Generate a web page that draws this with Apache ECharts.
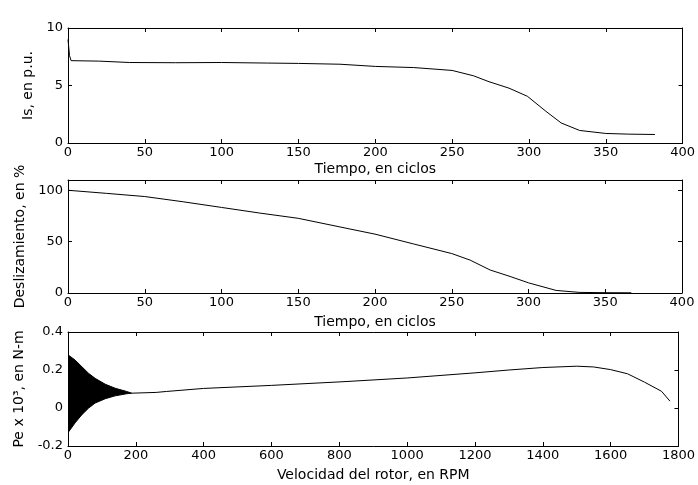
<!DOCTYPE html>
<html>
<head>
<meta charset="utf-8">
<script src="https://cdn.jsdelivr.net/npm/echarts@6/dist/echarts.min.js"></script>
<style>
html,body{margin:0;padding:0;background:#fff;}
#chart{width:698px;height:485px;}
</style>
</head>
<body>
<div id="chart"></div>
<script>
// ---- Data ----
// Top: stator current vs time (cycles)
const isTime  = [0, 0.5, 1, 2, 20, 40, 70, 100, 130, 150, 177, 200, 225, 250, 264, 274, 287, 299, 311, 321, 333, 350, 365, 382];
const isValue = [9.0, 8.3, 7.6, 7.16, 7.12, 7.0, 6.98, 7.0, 6.95, 6.92, 6.85, 6.66, 6.56, 6.31, 5.84, 5.33, 4.77, 4.06, 2.76, 1.74, 1.09, 0.83, 0.77, 0.74];

// Middle: slip (%) vs time (cycles)
const slipTime  = [0, 25, 50, 75, 100, 125, 150, 183, 200, 225, 250, 262, 275, 288, 300, 318, 333, 350, 367];
const slipValue = [100, 97, 93.9, 88.8, 83.3, 77.8, 72.7, 62.5, 57.3, 47.8, 38.4, 32, 22.4, 16.1, 9.9, 2.5, 0.6, 0.3, 0.2];

// Bottom: electric torque envelope of the start-up oscillation (RPM)
const oscSpeed = [0, 21, 41, 61, 80, 110, 139, 173, 188];
const oscUpper = [0.28, 0.252, 0.217, 0.182, 0.156, 0.125, 0.104, 0.087, 0.078];
const oscLower = [-0.13, -0.078, -0.035, 0.0, 0.026, 0.049, 0.064, 0.075, 0.078];

// Bottom: electric torque after the oscillation
const peSpeed = [188, 260, 290, 400, 600, 808, 1000, 1200, 1300, 1400, 1500, 1550, 1600, 1650, 1700, 1750, 1775];
const peValue = [0.078, 0.082, 0.087, 0.103, 0.119, 0.138, 0.158, 0.185, 0.2, 0.213, 0.22, 0.216, 0.202, 0.18, 0.136, 0.088, 0.036];

// Axis ranges / labels
const xTimeRange = {min: 0, max: 400, interval: 50};
const xSpeedRange = {min: 0, max: 1800, interval: 200};
const yIsRange = {min: 0, max: 10, interval: 5};
const ySlipRange = {min: 0, max: 110, interval: 50};
const yPeRange = {min: -0.2, max: 0.4, interval: 0.2};
const xNames = ['Tiempo, en ciclos', 'Tiempo, en ciclos', 'Velocidad del rotor, en RPM'];
const yNames = ['Is, en p.u.', 'Deslizamiento, en %', 'Pe x 10\u00B3, en N-m'];

// ---- Chart ----
const FONT = 'DejaVu Sans';
const zip = (a, b) => a.map((v, i) => [v, b[i]]);
const fmt = v => String(Math.round(v * 1000) / 1000);

const lineCol = '#000';
const axisLine = {show: true, onZero: false, lineStyle: {color: lineCol, width: 1}};
const axisTick = {show: true, inside: true, length: 4, lineStyle: {color: lineCol}};
const labelStyle = {color: '#000', fontFamily: FONT, fontSize: 13, formatter: fmt};
const nameStyle = {color: '#000', fontFamily: FONT, fontSize: 14};

const grids = [
  {left: 68, width: 615, top: 28, height: 115},
  {left: 68, width: 614, top: 180, height: 113},
  {left: 68, width: 612, top: 332, height: 114}
];
const xRanges = [xTimeRange, xTimeRange, xSpeedRange];
const yRanges = [yIsRange, ySlipRange, yPeRange];
const xGaps = [19, 22, 22];
const yGaps = [29, 38, 38];

const xAxes = [], yAxes = [];
for (let g = 0; g < 3; g++) {
  xAxes.push(Object.assign({
    type: 'value', gridIndex: g, position: 'bottom',
    name: xNames[g], nameLocation: 'middle', nameGap: xGaps[g], nameTextStyle: nameStyle,
    axisLine, axisTick, splitLine: {show: false},
    axisLabel: Object.assign({margin: 3}, labelStyle)
  }, xRanges[g]));
  xAxes.push(Object.assign({
    type: 'value', gridIndex: g, position: 'top',
    axisLine, axisTick, splitLine: {show: false}, axisLabel: {show: false}
  }, xRanges[g]));
  yAxes.push(Object.assign({
    type: 'value', gridIndex: g, position: 'left',
    name: yNames[g], nameLocation: 'middle', nameGap: yGaps[g], nameTextStyle: nameStyle,
    axisLine, axisTick, splitLine: {show: false},
    axisLabel: Object.assign({margin: 5, showMaxLabel: g === 1 ? false : true}, labelStyle)
  }, yRanges[g]));
  yAxes.push(Object.assign({
    type: 'value', gridIndex: g, position: 'right',
    axisLine, axisTick, splitLine: {show: false}, axisLabel: {show: false}
  }, yRanges[g]));
}

const lineSeries = (xi, yi, data, extra) => Object.assign({
  type: 'line', xAxisIndex: xi, yAxisIndex: yi, data,
  showSymbol: false, symbol: 'none', smooth: false,
  lineStyle: {color: lineCol, width: 1}, itemStyle: {color: lineCol},
  silent: true, animation: false, z: 3
}, extra || {});

// Oscillation band: polygon between the upper and lower envelopes, placed via the axes
const bandSeries = {
  type: 'custom', xAxisIndex: 4, yAxisIndex: 4, silent: true, animation: false, z: 2,
  data: [[oscSpeed[0], oscUpper[0]]],
  clip: true,
  renderItem: function (params, api) {
    const pts = [];
    for (let i = 0; i < oscSpeed.length; i++) pts.push(api.coord([oscSpeed[i], oscUpper[i]]));
    for (let i = oscSpeed.length - 1; i >= 0; i--) pts.push(api.coord([oscSpeed[i], oscLower[i]]));
    return {
      type: 'polygon',
      shape: {points: pts},
      style: {fill: '#000', stroke: '#000', lineWidth: 1}
    };
  }
};

const option = {
  backgroundColor: '#fff',
  animation: false,
  grid: grids,
  xAxis: xAxes,
  yAxis: yAxes,
  series: [
    lineSeries(0, 0, zip(isTime, isValue)),
    lineSeries(2, 2, zip(slipTime, slipValue)),
    bandSeries,
    lineSeries(4, 4, zip(peSpeed, peValue))
  ]
};

const chart = echarts.init(document.getElementById('chart'), null, {renderer: 'canvas'});
chart.setOption(option);
</script>
</body>
</html>
